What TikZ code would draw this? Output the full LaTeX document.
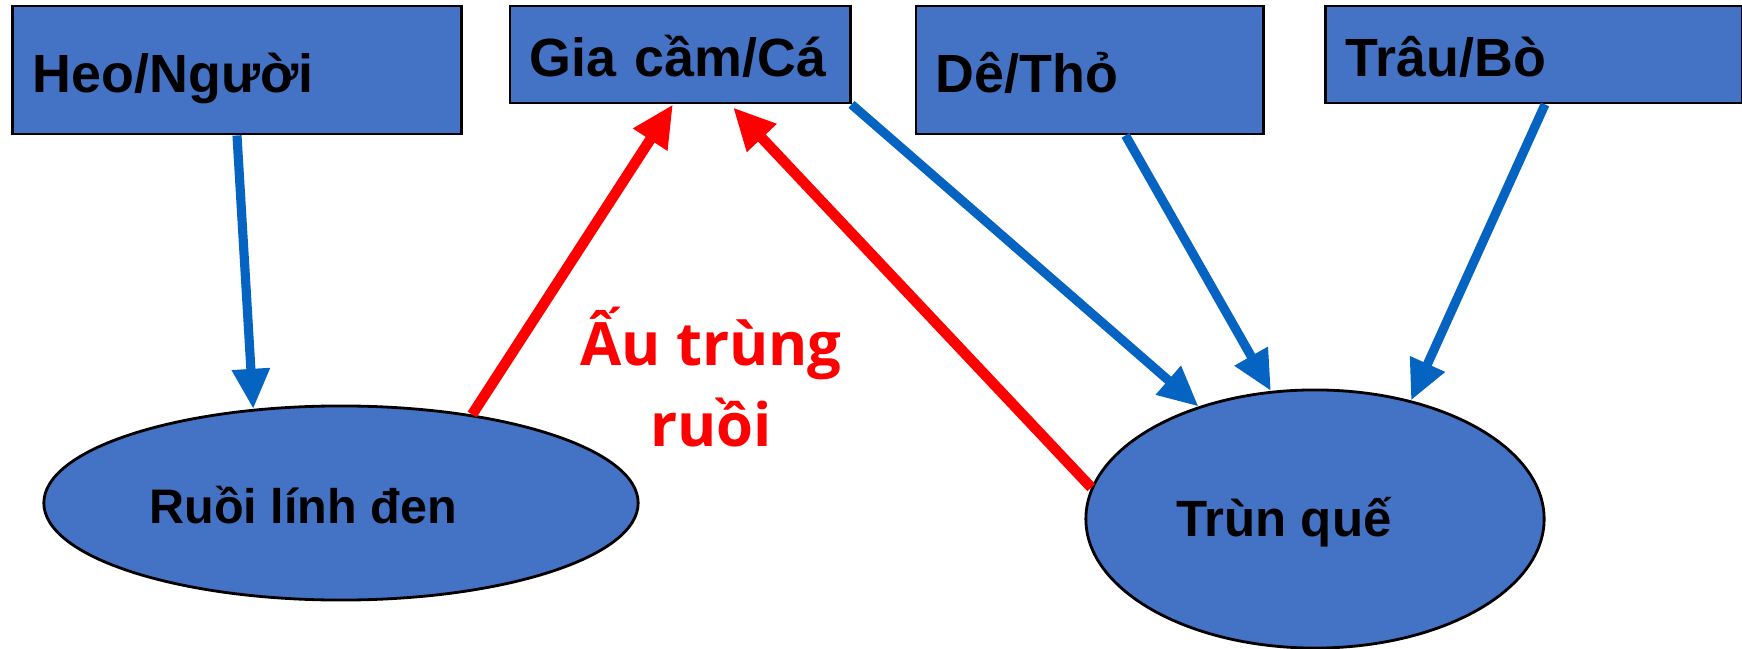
\documentclass[tikz,border=0pt]{standalone}
\usepackage{fontspec}
\setmainfont{Liberation Sans}
\newfontfamily\larvafont{Open Sans}
\usepackage{tikz}
\usetikzlibrary{arrows.meta,shapes.geometric}

\definecolor{boxblue}{RGB}{68,114,196}
\definecolor{arrowblue}{RGB}{5,99,193}

\begin{document}
\begin{tikzpicture}[x=0.01cm,y=-0.01cm,
	hostbox/.style={rectangle,draw=black,line width=0.8pt,fill=boxblue,inner xsep=0.2cm,inner ysep=0pt,align=left,text height=0.56cm,text depth=0.12cm,font=\fontsize{15.3}{18}\selectfont\bfseries},
	wormpool/.style={ellipse,draw=black,line width=0.8pt,fill=boxblue,inner sep=0pt},
	pooltext/.style={font=\fontsize{14.5}{17}\selectfont\bfseries},
	feedarrow/.style={draw=arrowblue,line width=2.6pt,-{Triangle[length=0.4cm,width=0.36cm]}},
	larvaarrow/.style={draw=red,line width=3pt,-{Triangle[length=0.42cm,width=0.38cm]}}]

\useasboundingbox (0,0) rectangle (1742,649);

% Host boxes (top row)
\node[hostbox,minimum height=1.28cm,text width=4.08cm] (heo) at (237,70) {Heo/Người};
\node[hostbox,minimum height=0.97cm,text width=3.0cm] (gia) at (680,54.5) {Gia cầm/Cá};
\node[hostbox,minimum height=1.28cm,text width=3.07cm] (de) at (1089.5,70) {Dê/Thỏ};
\node[hostbox,minimum height=0.97cm,text width=3.76cm] (trau) at (1534,54.5) {Trâu/Bò};

% Composting pools
\node[wormpool,minimum width=5.94cm,minimum height=1.94cm] (ruoi) at (341,503) {};
\node[pooltext,font=\fontsize{13.8}{16}\selectfont\bfseries] (ruoitext) at (303,505) {Ruồi lính đen};
\node[wormpool,minimum width=4.58cm,minimum height=2.58cm] (trun) at (1315,519) {};
\node[pooltext] (truntext) at (1284,522) {Trùn quế};

% Label of the red path
\node[text=red,align=center,font=\larvafont\fontsize{17}{22.8}\selectfont\bfseries] (larva) at (711,377) {Ấu trùng\\ruồi};

% Manure flows
\draw[feedarrow] (heo.south) -- (ruoi.133);
\draw[feedarrow] (gia.south east) -- (trun.136);
\draw[feedarrow] ([xshift=0.36cm]de.south) -- (trun.109);
\draw[feedarrow] ([xshift=0.11cm]trau.south) -- (trun.51);

% Feed back to poultry/fish
\draw[larvaarrow] (ruoi.34) -- ([xshift=-0.07cm]gia.south);
\draw[larvaarrow] (trun.172) -- ([xshift=0.53cm,yshift=-0.03cm]gia.south);
\end{tikzpicture}
\end{document}
